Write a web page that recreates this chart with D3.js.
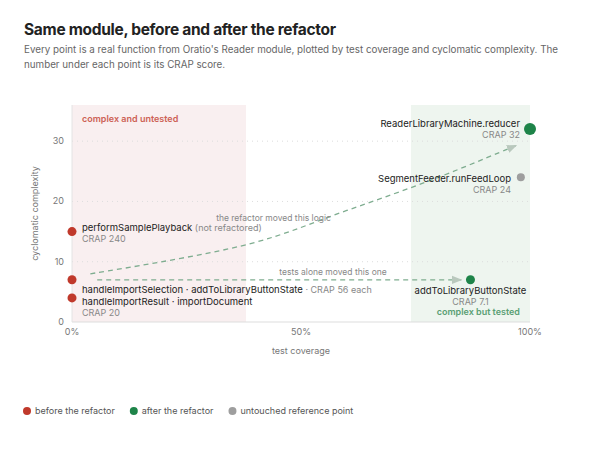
<!DOCTYPE html>
<html><head><meta charset="utf-8">
<script src="https://cdn.jsdelivr.net/npm/d3@7"></script>
<style>
body{margin:0;background:#fff;font-family:Inter,"Noto Sans",sans-serif;}
h1{font-size:15.5px;font-weight:700;margin:0;position:absolute;left:24px;top:20px;color:#222;letter-spacing:-0.3px}
p{font-size:9.8px;color:#666;margin:0;position:absolute;left:24px;top:42px;width:560px;line-height:15px}
svg{position:absolute;left:0;top:0}
</style></head><body>
<h1>Same module, before and after the refactor</h1>
<p>Every point is a real function from Oratio's Reader module, plotted by test coverage and cyclomatic complexity. The number under each point is its CRAP score.</p>
<svg id="c" width="590" height="458"></svg>
<script>
const before = [
  {name:"performSamplePlayback", cov:0, cc:15},
  {name:"handleImportSelection", cov:0, cc:7},
  {name:"handleImportResult", cov:0, cc:4}
];
const after = [
  {name:"ReaderLibraryMachine.reducer", cov:100, cc:32, r:6},
  {name:"addToLibraryButtonState", cov:87, cc:7, r:4.5}
];
const untouched = [{name:"SegmentFeeder.runFeedLoop", cov:98, cc:24}];
const yTicks = [0,10,20,30];
const xTicks = [0,50,100];
const refactorPath = [[4,8],[39,13],[60,18.5],[80,24],[97,29.3]];

const svg = d3.select("#c");
const x = d3.scaleLinear().domain([0,100]).range([72,530]);
const y = d3.scaleLinear().domain([0,36]).range([322,105]);
const red="#c0392b", green="#1e8449", grey="#9e9e9e";

svg.append("rect").attr("x",x(0)).attr("y",y(36)).attr("width",x(38)-x(0)).attr("height",y(0)-y(36)).attr("fill","#f9eff0");
svg.append("rect").attr("x",x(74)).attr("y",y(36)).attr("width",x(100)-x(74)).attr("height",y(0)-y(36)).attr("fill","#eef5ef");

yTicks.filter(d=>d>0).forEach(t=>svg.append("line").attr("x1",x(0)).attr("x2",x(100)).attr("y1",y(t)).attr("y2",y(t)).attr("stroke","#ddd").attr("stroke-dasharray","1,4"));
svg.append("line").attr("x1",x(0)).attr("x2",x(100)).attr("y1",y(0)).attr("y2",y(0)).attr("stroke","#ddd");
svg.append("line").attr("x1",x(0)).attr("x2",x(0)).attr("y1",y(0)).attr("y2",y(36)).attr("stroke","#e4e4e4");

yTicks.forEach(t=>svg.append("text").attr("x",64).attr("y",y(t)+3).attr("text-anchor","end").attr("fill","#777").attr("font-size","9px").text(t));
xTicks.forEach(t=>svg.append("text").attr("x",x(t)).attr("y",335).attr("text-anchor","middle").attr("fill","#777").attr("font-size","9px").text(t+"%"));
svg.append("text").attr("x",x(50)).attr("y",354).attr("text-anchor","middle").attr("fill","#777").attr("font-size","9px").text("test coverage");
svg.append("text").attr("transform",`translate(38,${y(18)}) rotate(-90)`).attr("text-anchor","middle").attr("fill","#777").attr("font-size","9px").text("cyclomatic complexity");

svg.append("text").attr("x",82).attr("y",122).attr("fill","#cd6155").attr("font-size","9px").attr("font-weight",600).text("complex and untested");
svg.append("text").attr("x",520).attr("y",315).attr("text-anchor","end").attr("fill","#5a9f74").attr("font-size","9px").attr("font-weight",600).text("complex but tested");

const defs = svg.append("defs");
defs.append("marker").attr("id","ah").attr("viewBox","0 0 10 10").attr("refX",9).attr("refY",5).attr("markerWidth",8).attr("markerHeight",8).attr("orient","auto")
  .append("path").attr("d","M0,1L10,5L0,9Z").attr("fill","#b9c8bd");
svg.append("path").attr("d",d3.line().x(d=>x(d[0])).y(d=>y(d[1])).curve(d3.curveCatmullRom)(refactorPath))
  .attr("fill","none").attr("stroke","#7fad90").attr("stroke-width",1.3).attr("stroke-dasharray","5,4").attr("marker-end","url(#ah)");
svg.append("line").attr("x1",x(5.5)).attr("x2",x(85)).attr("y1",y(7)).attr("y2",y(7)).attr("stroke","#7fad90").attr("stroke-width",1.3).attr("stroke-dasharray","5,4").attr("marker-end","url(#ah)");
svg.append("text").attr("x",x(44)).attr("y",y(16.8)).attr("text-anchor","middle").attr("fill","#888").attr("font-size","8.5px").text("the refactor moved this logic");
svg.append("text").attr("x",x(57)).attr("y",y(8)+1).attr("text-anchor","middle").attr("fill","#888").attr("font-size","8.5px").text("tests alone moved this one");

const lab=(px,py,anchor,t1,t2)=>{
  const g=svg.append("text").attr("x",px).attr("y",py).attr("text-anchor",anchor).attr("font-size","9.5px").attr("fill","#222");
  g.append("tspan").text(t1);
  if(t2) g.append("tspan").attr("fill","#888").attr("font-size","9px").text(t2);
};
const sub=(px,py,anchor,t)=>svg.append("text").attr("x",px).attr("y",py).attr("text-anchor",anchor).attr("font-size","9px").attr("fill","#888").text(t);

svg.selectAll(".b").data(before).join("circle").attr("cx",d=>x(d.cov)).attr("cy",d=>y(d.cc)).attr("r",4.5).attr("fill",red);
svg.selectAll(".a").data(after).join("circle").attr("cx",d=>x(d.cov)).attr("cy",d=>y(d.cc)).attr("r",d=>d.r).attr("fill",green);
svg.selectAll(".u").data(untouched).join("circle").attr("cx",d=>x(d.cov)).attr("cy",d=>y(d.cc)).attr("r",4).attr("fill",grey);

lab(82,y(15)-1,"start","performSamplePlayback"," (not refactored)");
sub(82,y(15)+10,"start","CRAP 240");
lab(82,y(7)+13,"start","handleImportSelection · addToLibraryButtonState"," · CRAP 56 each");
lab(82,y(4)+7,"start","handleImportResult · importDocument");
sub(82,y(4)+18,"start","CRAP 20");
lab(520,y(32)-2,"end","ReaderLibraryMachine.reducer");
sub(520,y(32)+9,"end","CRAP 32");
lab(511,y(24)+5,"end","SegmentFeeder.runFeedLoop");
sub(511,y(24)+16,"end","CRAP 24");
lab(x(87),y(7)+14,"middle","addToLibraryButtonState");
sub(x(87),y(7)+25,"middle","CRAP 7.1");

const legend=[["before the refactor",red],["after the refactor",green],["untouched reference point",grey]];
let lx=27;
legend.forEach(([t,c])=>{
  svg.append("circle").attr("cx",lx).attr("cy",411).attr("r",4).attr("fill",c);
  const tx=svg.append("text").attr("x",lx+8).attr("y",414).attr("font-size","9px").attr("fill","#555").text(t);
  lx+=tx.node().getComputedTextLength()+27;
});
</script></body></html>
